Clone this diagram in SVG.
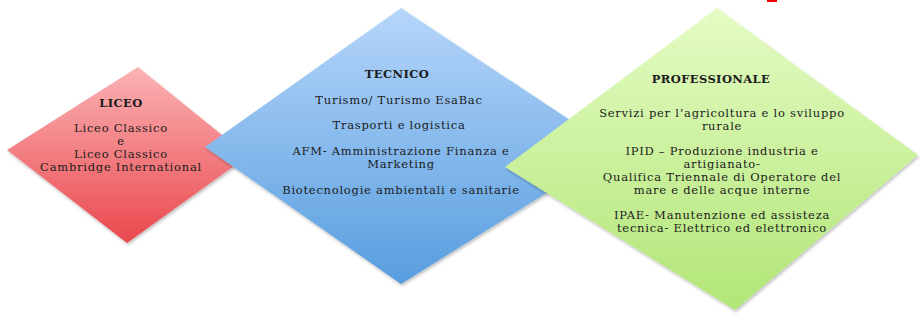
<svg xmlns="http://www.w3.org/2000/svg" width="920" height="325" viewBox="0 0 920 325">
<style>
text{font-family:"DejaVu Serif","Liberation Serif",serif;font-size:11.5px;letter-spacing:0.75px;fill:#1c1c1c;text-anchor:middle}
.t{font-weight:bold;letter-spacing:0.4px}
</style>
<defs>
<linearGradient id="gr" x1="0" y1="0" x2="0" y2="1"><stop offset="0" stop-color="#fbb3b5"/><stop offset="1" stop-color="#e9484d"/></linearGradient>
<linearGradient id="gb" x1="0" y1="0" x2="0" y2="1"><stop offset="0" stop-color="#b6d6fa"/><stop offset="1" stop-color="#579ddf"/></linearGradient>
<linearGradient id="gg" x1="0" y1="0" x2="0" y2="1"><stop offset="0" stop-color="#e4fcc4"/><stop offset="1" stop-color="#b2e577"/></linearGradient>
<filter id="sh" x="-10%" y="-10%" width="120%" height="120%"><feDropShadow dx="1" dy="2" stdDeviation="1.5" flood-color="#000" flood-opacity="0.25"/></filter>
</defs>
<rect width="920" height="325" fill="#fff"/>
<path d="M767 0h10v2h-10z" fill="#f20000"/>
<g id="liceo">
<polygon points="138,67 248,156 127,243 7,150" fill="url(#gr)" filter="url(#sh)"/>
<text class="t" x="121" y="107">LICEO</text>
<text x="121" y="132">Liceo Classico</text>
<text x="121" y="145">e</text>
<text x="121" y="158">Liceo Classico</text>
<text x="121" y="171">Cambridge International</text>
</g>
<g id="tecnico">
<polygon points="401,8 615,150 401,284 205,147" fill="url(#gb)" filter="url(#sh)"/>
<text class="t" x="397" y="78">TECNICO</text>
<text x="399" y="104">Turismo/ Turismo EsaBac</text>
<text x="399" y="129">Trasporti e logistica</text>
<text x="401" y="155">AFM- Amministrazione Finanza e</text>
<text x="401" y="168">Marketing</text>
<text x="401" y="194">Biotecnologie ambientali e sanitarie</text>
</g>
<g id="professionale">
<polygon points="717,8 918,155 735,310 505,167" fill="url(#gg)" filter="url(#sh)"/>
<text class="t" x="711" y="83">PROFESSIONALE</text>
<text x="722" y="117">Servizi per l’agricoltura e lo sviluppo</text>
<text x="722" y="130">rurale</text>
<text x="722" y="155">IPID – Produzione industria e</text>
<text x="722" y="168">artigianato-</text>
<text x="722" y="181">Qualifica Triennale di Operatore del</text>
<text x="722" y="194">mare e delle acque interne</text>
<text x="722" y="219">IPAE- Manutenzione ed assisteza</text>
<text x="722" y="232">tecnica- Elettrico ed elettronico</text>
</g>
</svg>
